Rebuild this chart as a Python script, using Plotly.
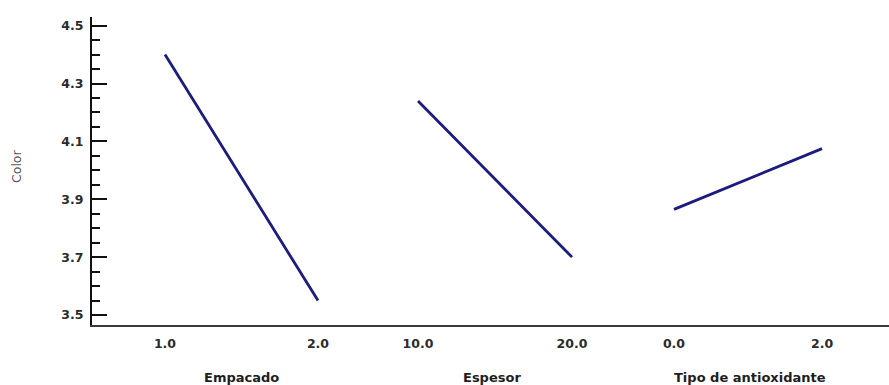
import plotly.graph_objects as go

# Main-effects plot for "Color": mean response at the low/high level of each factor
empacado_levels = [1.0, 2.0]
empacado_color = [4.40, 3.55]

espesor_levels = [10.0, 20.0]
espesor_color = [4.24, 3.70]

antiox_levels = [0.0, 2.0]
antiox_color = [3.865, 4.075]

factor_names = ["Empacado", "Espesor", "Tipo de antioxidante"]
y_ticks = [3.5, 3.7, 3.9, 4.1, 4.3, 4.5]

LINE_COLOR = "#1c1c7e"
FONT = "DejaVu Sans"

W, H = 889, 385
L, R, T, B = 92, 0, 17, 60
plot_w = W - L - R
plot_h = H - T - B


def px_to_xfrac(px):
    return (px - L) / plot_w


def px_to_yfrac(py):
    return (H - B - py) / plot_h


fig = go.Figure()
series = [
    (empacado_levels, empacado_color, "x"),
    (espesor_levels, espesor_color, "x2"),
    (antiox_levels, antiox_color, "x3"),
]
for xs, ys, xa in series:
    fig.add_trace(go.Scatter(
        x=xs, y=ys, xaxis=xa, yaxis="y", mode="lines",
        line=dict(color=LINE_COLOR, width=2.8),
        showlegend=False, hoverinfo="x+y",
    ))

tick_font = dict(family=FONT, size=12.5, color="#2b2b2b", weight="bold")

# three factor panels share one continuous baseline
b1, b2 = px_to_xfrac(368), px_to_xfrac(623)
xcommon = dict(
    showline=True, linecolor="#3a3a3a", linewidth=2, ticks="",
    showgrid=False, zeroline=False, tickformat=".1f",
    tickfont=tick_font, anchor="y", fixedrange=True,
    ticklabelstandoff=6,
)
fig.update_layout(
    xaxis=dict(domain=[0, b1], range=[0.5229, 2.3268],
               tickvals=empacado_levels, **xcommon),
    xaxis2=dict(domain=[b1, b2], range=[6.753, 23.31],
                tickvals=espesor_levels, **xcommon),
    xaxis3=dict(domain=[b2, 1], range=[-0.689, 2.905],
                tickvals=antiox_levels, **xcommon),
    yaxis=dict(
        range=[3.4654, 4.530], tickvals=y_ticks, tickformat=".1f",
        showline=True, linecolor="#111", linewidth=2,
        ticks="inside", ticklen=15, tickwidth=2, tickcolor="#111",
        minor=dict(ticks="inside", ticklen=8, tickwidth=1.5,
                   tickcolor="#111", dtick=0.05, tick0=3.5),
        showgrid=False, zeroline=False, tickfont=tick_font,
        ticklabelstandoff=4, fixedrange=True,
    ),
    width=W, height=H,
    margin=dict(l=L, r=R, t=T, b=B),
    paper_bgcolor="white", plot_bgcolor="white",
)

# factor names under each panel
title_centers = [241, 492, 750]
for name, cx in zip(factor_names, title_centers):
    fig.add_annotation(
        text=name, xref="paper", yref="paper",
        x=px_to_xfrac(cx), y=px_to_yfrac(377),
        xanchor="center", yanchor="middle", showarrow=False,
        font=dict(family=FONT, size=13, color="#1e1e1e", weight="bold"),
    )

# response label
fig.add_annotation(
    text="Color", xref="paper", yref="paper",
    x=px_to_xfrac(16), y=px_to_yfrac(167),
    xanchor="center", yanchor="middle", showarrow=False, textangle=-90,
    font=dict(family=FONT, size=12.5, color="#555555"),
)

fig.write_html("out.html")
